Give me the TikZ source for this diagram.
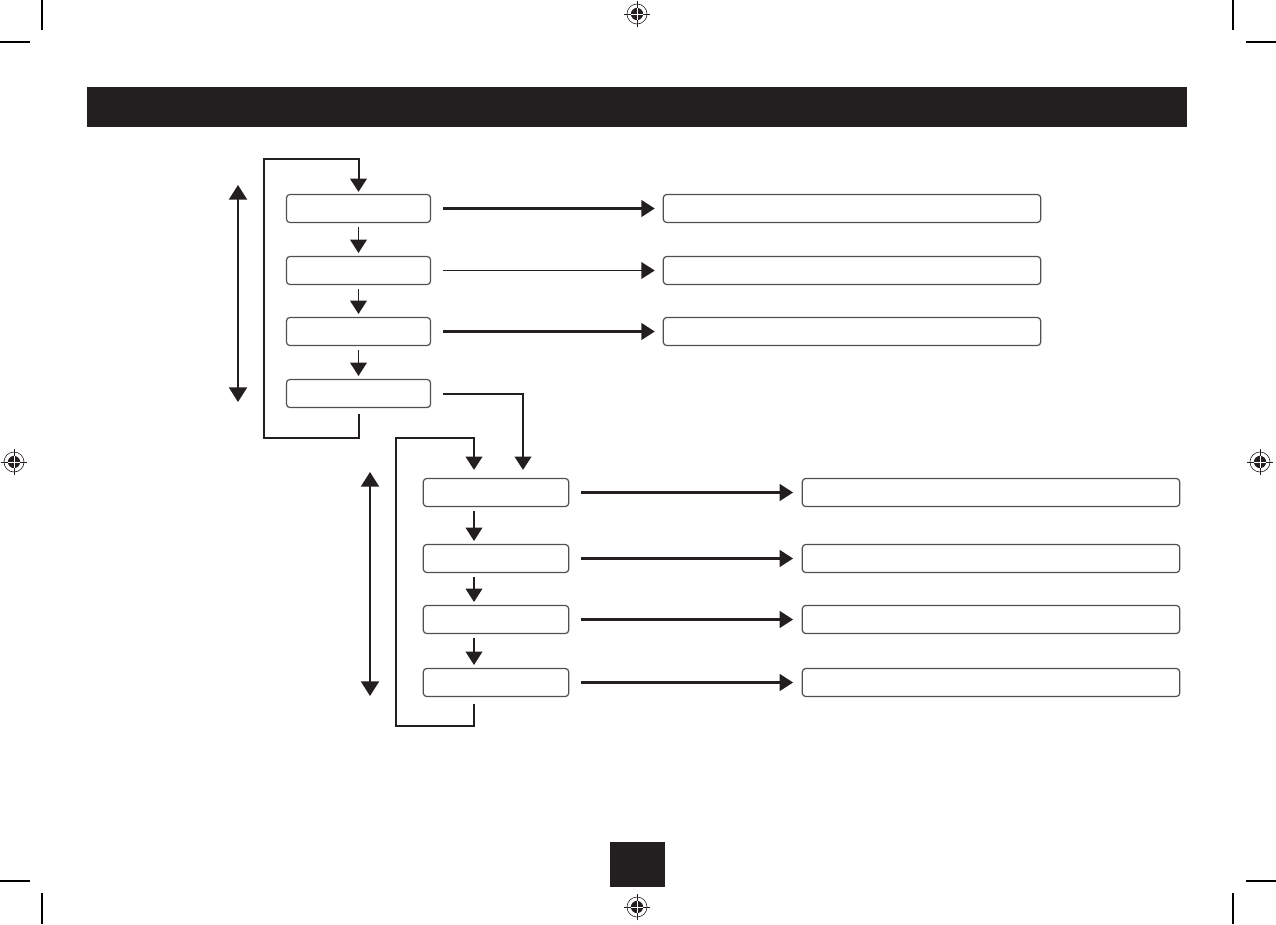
\documentclass[tikz,border=0pt]{standalone}
\usetikzlibrary{arrows.meta,calc}
\definecolor{ink}{HTML}{231F20}
\definecolor{boxline}{HTML}{505050}
\begin{document}
\begin{tikzpicture}[x=0.75pt,y=-0.75pt,
  box/.style={draw=boxline,line width=0.9pt,rounded corners=2.5pt,fill=white,inner sep=0pt,minimum height=21pt},
  lbox/.style={box,minimum width=108pt},
  rbox/.style={box,minimum width=283pt},
  tipT/.style={-{Triangle[length=10pt,width=12.5pt]}},
  flow/.style={draw=ink,line width=1.6pt,tipT},
  thinflow/.style={draw=ink,line width=0.9pt,tipT},
  step arrow/.style={draw=ink,line width=1.2pt,tipT,shorten <=3pt,shorten >=2.2pt},
  loopline/.style={draw=ink,line width=1.5pt,tipT},
  updown/.style={draw=ink,line width=1.6pt,{Triangle[length=11pt,width=13.5pt]}-{Triangle[length=11pt,width=13.5pt]}},
  crop/.style={draw=black,line width=0.8pt},
  regmark/.pic={
    \draw[ink,line width=0.45pt] (0,0) circle[radius=7.5pt];
    \fill[ink] (0,0) circle[radius=4.6pt];
    \draw[white,line width=0.4pt] (-4.6pt,0)--(4.6pt,0) (0,-4.6pt)--(0,4.6pt);
    \draw[ink,line width=0.5pt] (-10pt,0)--(-4.6pt,0) (4.6pt,0)--(10pt,0) (0,-10pt)--(0,-4.6pt) (0,4.6pt)--(0,10pt);
  }
]
\useasboundingbox (0,0) rectangle (1276,924);
\fill[white] (0,0) rectangle (1276,924);

% crop marks
\draw[crop] (42,0)--(42,30) (0,42)--(30,42);
\draw[crop] (1233,0)--(1233,30) (1246,42)--(1276,42);
\draw[crop] (0,881)--(30,881) (42,893)--(42,924);
\draw[crop] (1246,881)--(1276,881) (1233,893)--(1233,924);

% registration marks
\pic at (637,14) {regmark};
\pic at (637,907) {regmark};
\pic at (14,462) {regmark};
\pic at (1260,462) {regmark};

% header bar and page box
\fill[ink] (87,87) rectangle (1187,127);
\fill[ink] (610,842) rectangle (665,887);

% ---------- group 1 ----------
\node[lbox] (a1) at (358.5,208.5) {};
\node[lbox] (a2) at (358.5,270.5) {};
\node[lbox] (a3) at (358.5,331.5) {};
\node[lbox] (a4) at (358.5,393.5) {};
\node[rbox] (ra1) at (852,208.5) {};
\node[rbox] (ra2) at (852,270.5) {};
\node[rbox] (ra3) at (852,331.5) {};

\draw[step arrow] (a1.south) -- (a2.north);
\draw[step arrow] (a2.south) -- (a3.north);
\draw[step arrow] (a3.south) -- (a4.north);

\draw[flow,shorten <=9pt,shorten >=6pt] (a1.east) -- (ra1.west);
\draw[thinflow,shorten <=9pt,shorten >=6pt] (a2.east) -- (ra2.west);
\draw[flow,shorten <=9pt,shorten >=6pt] (a3.east) -- (ra3.west);

\coordinate (g1bl) at (264,438);
\coordinate (g1tl) at (264,159);
\draw[loopline,shorten <=4.5pt,shorten >=1.5pt] (a4.south) |- (g1bl) -- (g1tl) -| (a1.north);

\coordinate (u1top) at (238,185);
\coordinate (u1bot) at (238,402);
\draw[updown] (u1top) -- (u1bot);

% ---------- group 2 ----------
\node[lbox,minimum width=109pt] (b1) at (496,492.5) {};
\node[lbox,minimum width=109pt] (b2) at (496,558.5) {};
\node[lbox,minimum width=109pt] (b3) at (496,619.5) {};
\node[lbox,minimum width=109pt] (b4) at (496,682.5) {};
\node[rbox] (rb1) at (991,492.5) {};
\node[rbox] (rb2) at (991,558.5) {};
\node[rbox] (rb3) at (991,619.5) {};
\node[rbox] (rb4) at (991,682.5) {};

\coordinate (g2c) at (474,0);
\draw[step arrow] (b1.south -| g2c) -- (b2.north -| g2c);
\draw[step arrow] (b2.south -| g2c) -- (b3.north -| g2c);
\draw[step arrow] (b3.south -| g2c) -- (b4.north -| g2c);

\draw[flow,shorten <=9pt,shorten >=6.5pt] (b1.east) -- (rb1.west);
\draw[flow,shorten <=9pt,shorten >=6.5pt] (b2.east) -- (rb2.west);
\draw[flow,shorten <=9pt,shorten >=6.5pt] (b3.east) -- (rb3.west);
\draw[flow,shorten <=9pt,shorten >=6.5pt] (b4.east) -- (rb4.west);

% link from group 1 to group 2
\coordinate (g2in) at (523,0);
\draw[loopline,shorten <=9pt,shorten >=6pt] (a4.east) -| (b1.north -| g2in);

\coordinate (g2bl) at (396,726);
\coordinate (g2tl) at (396,438);
\draw[loopline,shorten <=5pt,shorten >=6pt] (b4.south -| g2c) |- (g2bl) -- (g2tl) -| (b1.north -| g2c);

\coordinate (u2top) at (370,472);
\coordinate (u2bot) at (370,696);
\draw[updown] (u2top) -- (u2bot);
\end{tikzpicture}
\end{document}
